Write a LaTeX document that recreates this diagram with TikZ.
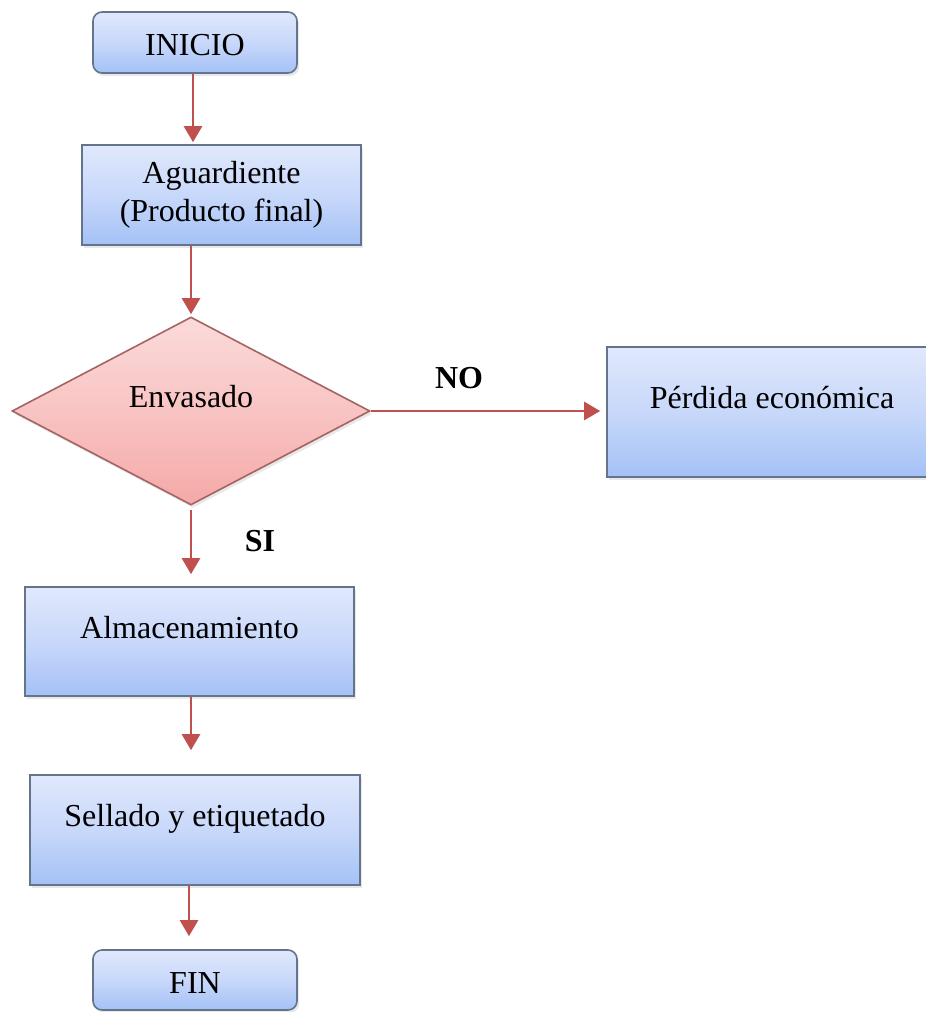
\documentclass[tikz,border=0pt]{standalone}
\usepackage{fontspec}
\setmainfont{Liberation Serif}
\usetikzlibrary{shapes.geometric,shadows,arrows.meta}

\definecolor{boxtop}{HTML}{E0E8FC}
\definecolor{boxmid}{HTML}{C8D8FA}
\definecolor{boxbot}{HTML}{A4C1F6}
\definecolor{boxline}{HTML}{64748A}
\definecolor{dectop}{HTML}{FBDADA}
\definecolor{decmid}{HTML}{F8C4C3}
\definecolor{decbot}{HTML}{F4A9A7}
\definecolor{decline}{HTML}{A46464}
\definecolor{flow}{HTML}{C0504D}

\tikzset{
  base/.style={font=\fontsize{32}{38}\selectfont, inner sep=0pt, align=center,
    line width=1.6pt,
    drop shadow={shadow xshift=2pt, shadow yshift=-3pt, opacity=0.18, fill=gray}},
  bluefill/.style={draw=boxline, top color=boxtop, bottom color=boxbot, middle color=boxmid},
  terminal/.style={base, bluefill, rectangle, rounded corners=9pt,
    text height=26pt, text depth=0pt},
  process/.style={base, bluefill, rectangle},
  oneline/.style={text height=22pt, text depth=29pt},
  decision/.style={base, diamond, aspect=1.9, draw=decline,
    top color=dectop, bottom color=decbot, middle color=decmid, oneline},
  flowarrow/.style={draw=flow, line width=2.6pt,
    -{Triangle[length=16pt, width=18pt]}},
  answer/.style={font=\fontsize{32}{38}\selectfont\bfseries, inner sep=0pt}
}

\begin{document}
\begin{tikzpicture}[x=1pt, y=-1pt]
  \useasboundingbox (0,0) rectangle (926,1012);
  \clip (0,0) rectangle (926,1012);

  % process steps
  \node[terminal, minimum width=204pt, minimum height=61pt] (ini) at (195,42.5) {INICIO};
  \node[process, minimum width=279pt, minimum height=100pt] (agu) at (221.5,195)
    {Aguardiente\\(Producto final)};
  \node[decision, minimum width=358pt, minimum height=188pt] (env) at (191,411) {Envasado};
  \node[process, oneline, minimum width=330pt, minimum height=130pt] (per) at (772,412)
    {P\'erdida econ\'omica};
  \node[process, oneline, minimum width=329pt, minimum height=109pt] (alm) at (189.5,641.5)
    {Almacenamiento};
  \node[process, oneline, minimum width=330pt, minimum height=110pt] (sel) at (195,830)
    {Sellado y etiquetado};
  \node[terminal, minimum width=204pt, minimum height=60pt] (fin) at (195,980) {FIN};

  % branch labels
  \node[answer] (no) at (459,378) {NO};
  \node[answer] (si) at (260,541) {SI};

  % connectors
  \draw[flowarrow, shorten >=2pt] (ini.south -| 193,0) -- (agu.north -| 193,0);
  \draw[flowarrow, shorten >=2pt] (agu.south -| env.north) -- (env.north);
  \draw[flowarrow, shorten <=4pt, shorten >=12pt] (env.south) -- (env.south |- alm.north);
  \draw[flowarrow, shorten >=6pt] (env.east) -- (env.east -| per.west);
  \draw[flowarrow, shorten >=24pt] (alm.south -| 191,0) -- (sel.north -| 191,0);
  \draw[flowarrow, shorten >=13pt] (sel.south -| 189,0) -- (fin.north -| 189,0);
\end{tikzpicture}
\end{document}
